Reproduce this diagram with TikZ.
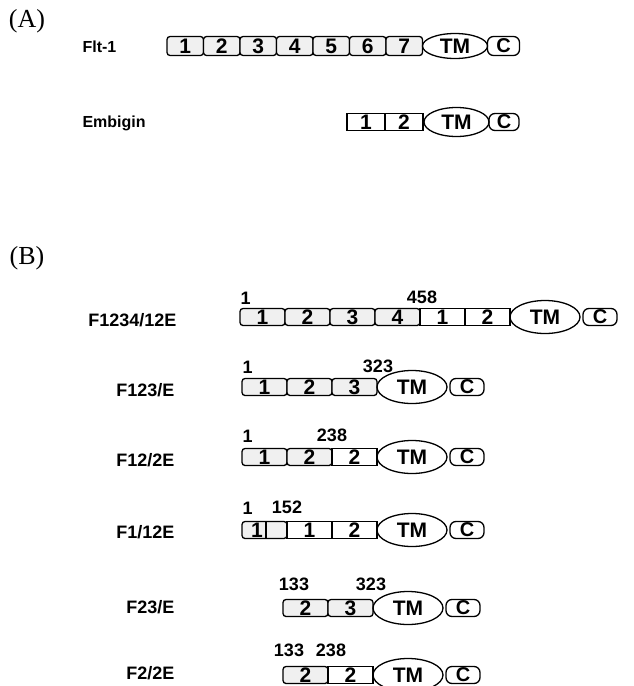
\documentclass[tikz,border=0pt]{standalone}
\usepackage{fontspec}
\setmainfont{Liberation Serif}
\setsansfont{Liberation Sans}
\usetikzlibrary{positioning}
\usetikzlibrary{shapes.geometric}

\tikzset{
  dom/.style={draw, line width=1.3pt, minimum width=45pt, minimum height=17pt,
    inner sep=0pt, outer sep=0pt, font=\sffamily\bfseries\fontsize{21}{21}\selectfont},
  flt/.style={dom, rounded corners=3pt, fill=gray!12},
  emb/.style={dom, fill=white},
  tm/.style={draw, ellipse, line width=1.3pt, minimum width=70pt, minimum height=33pt,
    inner sep=0pt, outer sep=0pt, font=\sffamily\bfseries\fontsize{21}{21}\selectfont},
  cterm/.style={draw, rounded corners=6pt, line width=1.3pt, minimum width=34pt, minimum height=17pt,
    inner sep=0pt, outer sep=0pt, font=\sffamily\bfseries\fontsize{20}{20}\selectfont},
  rowlbl/.style={anchor=east, font=\sffamily\bfseries\fontsize{18}{18}\selectfont},
  protlbl/.style={anchor=west, font=\sffamily\bfseries\fontsize{16}{16}\selectfont},
  aapos/.style={font=\sffamily\bfseries\fontsize{18}{18}\selectfont},
  panel/.style={font=\fontsize{26}{26}\selectfont}
}

\begin{document}
\begin{tikzpicture}[x=1pt, y=-1pt]
  \useasboundingbox (0,0) rectangle (634,686);

  % (A) wild type proteins
  \node[panel] (pa) at (27,21) {(A)};
  \node[protlbl] (lflt) at (79,47) {Flt-1};
  \node[flt, minimum width=36.5pt, minimum height=19pt] (flt1) at (185.25,46) {1};
  \foreach \i [count=\j from 1] in {2,...,7}{
    \node[flt, minimum width=36.5pt, minimum height=19pt, right=0pt of flt\j] (flt\i) {\i};
  }
  \node[tm, minimum width=65pt, minimum height=25pt, right=0pt of flt7] (flttm) {TM};
  \node[cterm, minimum width=32pt, minimum height=19pt, right=0pt of flttm] (fltc) {C};

  \node[protlbl] (lemb) at (79,123) {Embigin};
  \node[emb, minimum width=38pt] (emb1) at (366,122) {1};
  \node[emb, minimum width=38pt, right=0pt of emb1] (emb2) {2};
  \node[tm, minimum width=65pt, minimum height=29pt, right=1pt of emb2] (embtm) {TM};
  \node[cterm, minimum width=30pt, right=0pt of embtm] (embc) {C};

  % (B) chimeras
  \node[panel] (pb) at (27,258) {(B)};

  % F1234/12E
  \node[rowlbl] (l1) at (180,320) {F1234/12E};
  \node[flt] (ra1) at (262.5,317) {1};
  \node[flt, right=0pt of ra1] (ra2) {2};
  \node[flt, right=0pt of ra2] (ra3) {3};
  \node[flt, right=0pt of ra3] (ra4) {4};
  \node[emb, right=0pt of ra4] (ra5) {1};
  \node[emb, right=0pt of ra5] (ra6) {2};
  \node[tm, right=0pt of ra6] (ratm) {TM};
  \node[cterm, right=3pt of ratm] (rac) {C};
  \node[aapos, anchor=west] (pa1) at (237,298) {1};
  \node[aapos] (pa2) at (422,297) {458};

  % F123/E
  \node[rowlbl] (l2) at (178,390) {F123/E};
  \node[flt] (rb1) at (264.5,387) {1};
  \node[flt, right=0pt of rb1] (rb2) {2};
  \node[flt, right=0pt of rb2] (rb3) {3};
  \node[tm, right=0pt of rb3] (rbtm) {TM};
  \node[cterm, right=3pt of rbtm] (rbc) {C};
  \node[aapos, anchor=west] (pb1) at (239,367) {1};
  \node[aapos] (pb2) at (378,366) {323};

  % F12/2E
  \node[rowlbl] (l3) at (178,460) {F12/2E};
  \node[flt] (rc1) at (264.5,457) {1};
  \node[flt, right=0pt of rc1] (rc2) {2};
  \node[emb, right=0pt of rc2] (rc3) {2};
  \node[tm, right=0pt of rc3] (rctm) {TM};
  \node[cterm, right=3pt of rctm] (rcc) {C};
  \node[aapos, anchor=west] (pc1) at (239,436) {1};
  \node[aapos] (pc2) at (332,435) {238};

  % F1/12E
  \node[rowlbl] (l4) at (178,532) {F1/12E};
  \node[flt, text width=45pt, align=left] (rd1) at (264.5,530) {\hspace{9pt}1};
  \draw[line width=1.3pt] ([xshift=24pt]rd1.north west) -- ([xshift=24pt]rd1.south west);
  \node[emb, right=0pt of rd1] (rd2) {1};
  \node[emb, right=0pt of rd2] (rd3) {2};
  \node[tm, right=0pt of rd3] (rdtm) {TM};
  \node[cterm, right=3pt of rdtm] (rdc) {C};
  \node[aapos, anchor=west] (pd1) at (239,508) {1};
  \node[aapos] (pd2) at (287,507) {152};

  % F23/E
  \node[rowlbl] (l5) at (178,607) {F23/E};
  \node[flt] (re1) at (305.5,608) {2};
  \node[flt, right=0pt of re1] (re2) {3};
  \node[tm, right=0pt of re2] (retm) {TM};
  \node[cterm, right=3pt of retm] (rec) {C};
  \node[aapos] (pe1) at (294,584) {133};
  \node[aapos] (pe2) at (371,584) {323};

  % F2/2E
  \node[rowlbl] (l6) at (178,673) {F2/2E};
  \node[flt] (rf1) at (305.5,675) {2};
  \node[emb, right=0pt of rf1] (rf2) {2};
  \node[tm, right=0pt of rf2] (rftm) {TM};
  \node[cterm, right=3pt of rftm] (rfc) {C};
  \node[aapos] (pf1) at (289,650) {133};
  \node[aapos] (pf2) at (331,650) {238};
\end{tikzpicture}
\end{document}
